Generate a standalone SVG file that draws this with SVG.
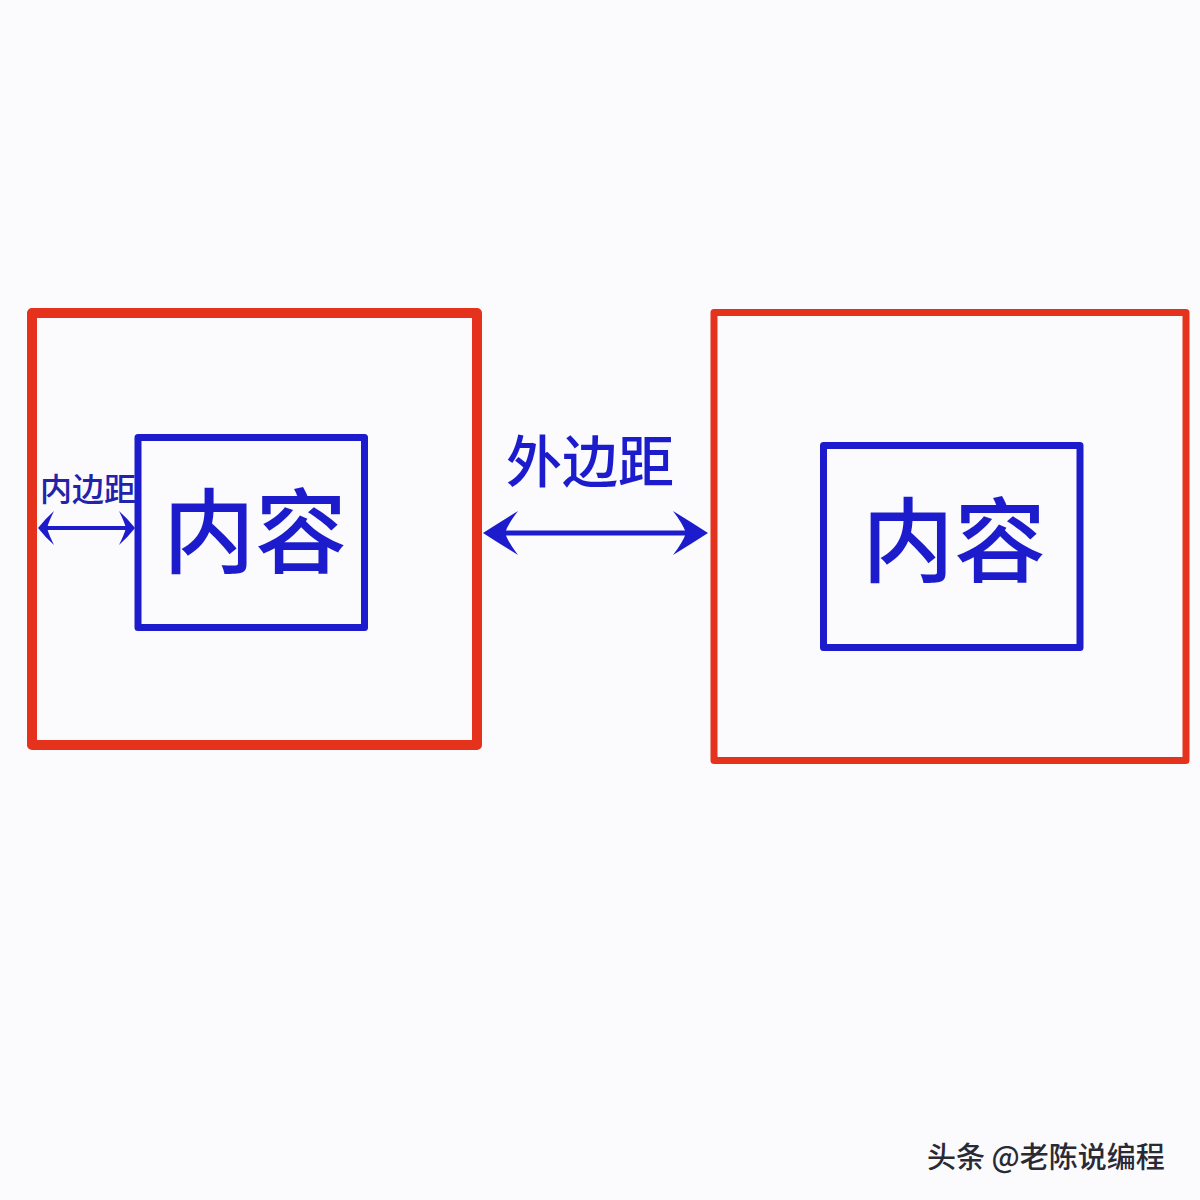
<svg xmlns="http://www.w3.org/2000/svg" width="1200" height="1200" viewBox="0 0 1200 1200">
<style>
.outer{fill:none;stroke:#e5321c;stroke-linejoin:round}
.inner{fill:none;stroke:#1c1ccc;stroke-width:7;stroke-linejoin:round}
.lbl{font-family:"Noto Sans CJK SC","Noto Sans",sans-serif;fill:#1c1ccc;text-anchor:middle;font-weight:500}
.conn{stroke:#1c1ccc;fill:none}
</style>
<defs>
<marker id="bigHead" markerUnits="userSpaceOnUse" viewBox="-30 -25 60 50" markerWidth="60" markerHeight="50" refX="0" refY="0" orient="auto-start-reverse">
<path d="M18,0 Q1,-11 -17,-22 Q-7,-9 -4,0 Q-7,9 -17,22 Q1,11 18,0 Z" fill="#1c1ccc"/>
</marker>
<marker id="smallHead" markerUnits="userSpaceOnUse" viewBox="-20 -20 40 40" markerWidth="40" markerHeight="40" refX="0" refY="0" orient="auto-start-reverse">
<path d="M8,0 Q1,-9 -8,-17 Q-3,-7 -1,0 Q-3,7 -8,17 Q1,9 8,0 Z" fill="#1c1ccc"/>
</marker>
</defs>
<rect width="1200" height="1200" fill="#fbfbfe"/>
<g id="left-outer">
<rect class="outer" x="32" y="313" width="445" height="432" stroke-width="10"/>
</g>
<g id="left-inner">
<rect class="inner" x="138" y="437.5" width="226.5" height="190"/>
<text class="lbl" x="255" y="566" font-size="92">内容</text>
</g>
<g id="right-outer">
<rect class="outer" x="714" y="312.5" width="472" height="448" stroke-width="7"/>
</g>
<g id="right-inner">
<rect class="inner" x="823.5" y="445.5" width="256.5" height="202"/>
<text class="lbl" x="954" y="575" font-size="92">内容</text>
</g>
<g id="connectors">
<line class="conn" x1="501" y1="533" x2="690" y2="533" stroke-width="5" marker-start="url(#bigHead)" marker-end="url(#bigHead)"/>
<line class="conn" x1="46" y1="528" x2="127" y2="528" stroke-width="4" marker-start="url(#smallHead)" marker-end="url(#smallHead)"/>
</g>
<g id="labels">
<text class="lbl" x="590" y="482" font-size="56">外边距</text>
<text class="lbl" x="88" y="501" font-size="32" fill="#2222aa" style="fill:#2222aa">内边距</text>
</g>
<g id="watermark">
<text x="927" y="1168" font-family="'Noto Sans CJK SC','Noto Sans',sans-serif" font-size="29" font-weight="500" fill="#2a2a35">头条 @老陈说编程</text>
</g>
</svg>
